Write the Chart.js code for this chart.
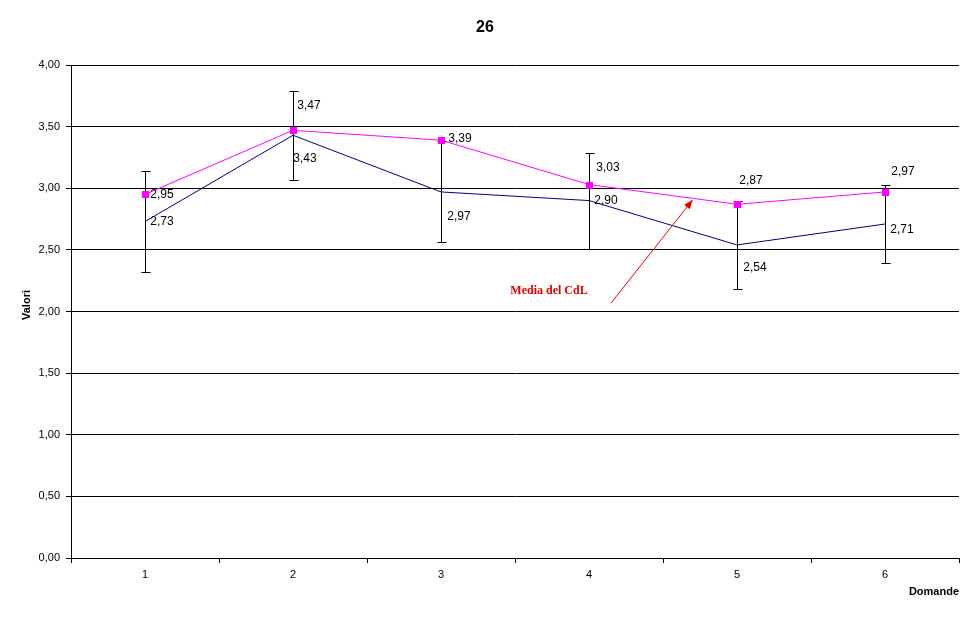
<!DOCTYPE html>
<html><head><meta charset="utf-8">
<script src="https://cdn.jsdelivr.net/npm/chart.js@4/dist/chart.umd.min.js"></script>
<style>html,body{margin:0;padding:0;background:#fff;}</style>
</head><body>
<canvas id="c" width="972" height="622"></canvas>
<script>
// ---- data ----
const categories = ['1', '2', '3', '4', '5', '6'];
const valori = [2.73, 3.43, 2.97, 2.90, 2.54, 2.71];
const errori = [0.41, 0.36, 0.41, 0.39, 0.36, 0.32];
const mediaCdL = [2.95, 3.47, 3.39, 3.03, 2.87, 2.97];
const yTickValues = [0, 0.5, 1, 1.5, 2, 2.5, 3, 3.5, 4];
const chartTitle = '26';
const xTitle = 'Domande';
const yTitle = 'Valori';
const annotationText = 'Media del CdL';

// ---- label placement (pixel offsets from points) ----
const valoriLabelOffsets = [[17, 0], [12, 23], [18, 25], [17, 0], [18, 23], [17, 6]];
const mediaLabelOffsets = [[17, 0], [16, -25], [19, -1], [19, -17], [14, -24], [18, -20]];
// annotation anchor in data coords (category index, value)
const annText = [2.73, 2.17];
const annArrowFrom = [3.15, 2.07];
const annArrowTo = [3.70, 2.905];

const fmt = v => v.toFixed(2).replace('.', ',');

const extras = {
  id: 'extras',
  afterDatasetsDraw(chart) {
    const ctx = chart.ctx;
    const xs = chart.scales.x, ys = chart.scales.y;
    ctx.save();
    // error bars
    ctx.strokeStyle = '#000';
    ctx.lineWidth = 1;
    valori.forEach((v, i) => {
      const x = Math.round(xs.getPixelForValue(i)) + 0.5;
      const yt = Math.round(ys.getPixelForValue(v + errori[i])) + 0.5;
      const yb = Math.round(ys.getPixelForValue(v - errori[i])) + 0.5;
      ctx.beginPath();
      ctx.moveTo(x, yt); ctx.lineTo(x, yb);
      ctx.moveTo(x - 4, yt); ctx.lineTo(x + 5, yt);
      ctx.moveTo(x - 4, yb); ctx.lineTo(x + 5, yb);
      ctx.stroke();
    });
    // magenta markers on top
    const meta = chart.getDatasetMeta(1);
    ctx.fillStyle = '#FF00FF';
    meta.data.forEach(p => { ctx.fillRect(Math.round(p.x) - 3, Math.round(p.y) - 3, 7, 7); });
    // data labels
    ctx.fillStyle = '#000';
    ctx.font = '12px "Liberation Sans", Arial, sans-serif';
    ctx.textAlign = 'center';
    ctx.textBaseline = 'middle';
    valori.forEach((v, i) => {
      const x = xs.getPixelForValue(i), y = ys.getPixelForValue(v);
      ctx.fillText(fmt(v), x + valoriLabelOffsets[i][0], y + valoriLabelOffsets[i][1]);
    });
    mediaCdL.forEach((v, i) => {
      const x = xs.getPixelForValue(i), y = ys.getPixelForValue(v);
      ctx.fillText(fmt(v), x + mediaLabelOffsets[i][0], y + mediaLabelOffsets[i][1]);
    });
    // annotation
    ctx.fillStyle = '#E00000';
    ctx.strokeStyle = '#E00000';
    ctx.font = 'bold 12px "Liberation Serif", "Times New Roman", serif';
    ctx.fillText(annotationText, xs.getPixelForValue(annText[0]), ys.getPixelForValue(annText[1]));
    const x0 = xs.getPixelForValue(annArrowFrom[0]), y0 = ys.getPixelForValue(annArrowFrom[1]);
    const x1 = xs.getPixelForValue(annArrowTo[0]), y1 = ys.getPixelForValue(annArrowTo[1]);
    ctx.beginPath(); ctx.moveTo(x0, y0); ctx.lineTo(x1, y1); ctx.stroke();
    const ang = Math.atan2(y1 - y0, x1 - x0), L = 9, W = 3.5;
    ctx.beginPath();
    ctx.moveTo(x1, y1);
    ctx.lineTo(x1 - L * Math.cos(ang) + W * Math.sin(ang), y1 - L * Math.sin(ang) - W * Math.cos(ang));
    ctx.lineTo(x1 - L * Math.cos(ang) - W * Math.sin(ang), y1 - L * Math.sin(ang) + W * Math.cos(ang));
    ctx.closePath(); ctx.fill();
    // title
    ctx.fillStyle = '#000';
    ctx.font = 'bold 16px "Liberation Sans", Arial, sans-serif';
    ctx.fillText(chartTitle, 485, 28);
    // y axis title
    ctx.font = 'bold 11px "Liberation Sans", Arial, sans-serif';
    ctx.translate(27, 305);
    ctx.rotate(-Math.PI / 2);
    ctx.fillText(yTitle, 0, 0);
    ctx.restore();
  }
};

new Chart(document.getElementById('c'), {
  type: 'line',
  data: {
    labels: categories,
    datasets: [
      { label: 'Valori', data: valori, borderColor: '#000080', borderWidth: 1, pointRadius: 0, fill: false, tension: 0 },
      { label: 'Media del CdL', data: mediaCdL, borderColor: '#FF00FF', backgroundColor: '#FF00FF', borderWidth: 1, pointStyle: 'rect', pointRadius: 0, fill: false, tension: 0 }
    ]
  },
  options: {
    responsive: false,
    animation: false,
    layout: { padding: { top: 65, right: 13, left: 0, bottom: 0 } },
    plugins: { legend: { display: false }, tooltip: { enabled: false }, title: { display: false } },
    scales: {
      x: {
        offset: true,
        grid: { drawOnChartArea: false, drawTicks: true, tickLength: 5, offset: true, color: '#000' },
        border: { color: '#000', width: 1 },
        ticks: { color: '#000', font: { family: '"Liberation Sans", Arial, sans-serif', size: 11 }, padding: 5, maxRotation: 0 },
        title: { display: true, text: xTitle, align: 'end', color: '#000', font: { family: '"Liberation Sans", Arial, sans-serif', size: 11, weight: 'bold' }, padding: { top: 0, bottom: 23 } },
        afterFit: s => { s.height = 64; }
      },
      y: {
        min: 0, max: 4,
        afterBuildTicks: s => { s.ticks = yTickValues.map(v => ({ value: v })); },
        grid: { color: '#000', tickLength: 5, drawTicks: true },
        border: { color: '#000', width: 1 },
        ticks: { color: '#000', font: { family: '"Liberation Sans", Arial, sans-serif', size: 11 }, padding: 6, callback: v => fmt(v) },
        title: { display: false },
        afterFit: s => { s.width = 71; }
      }
    }
  },
  plugins: [extras]
});
</script>
</body></html>
